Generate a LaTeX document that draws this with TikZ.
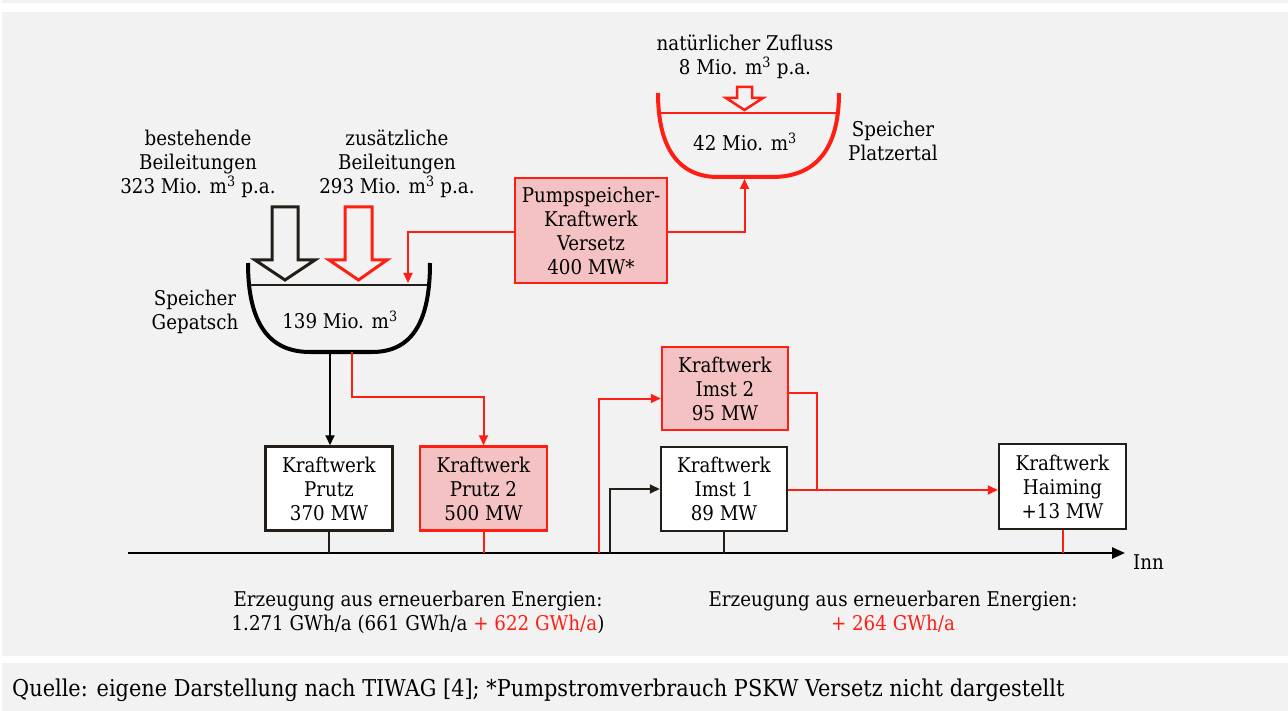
\documentclass[tikz,border=0pt]{standalone}
\usepackage{fontspec}
\setmainfont{DejaVu Serif Condensed}
\usetikzlibrary{arrows.meta}
\definecolor{panel}{HTML}{F2F2F2}
\definecolor{redc}{HTML}{FF1E14}
\definecolor{pinkc}{HTML}{F4C2C2}
\definecolor{darkc}{HTML}{231F18}
\tikzset{
  txt/.style={align=center, inner sep=0pt, font=\fontsize{20.3}{24}\selectfont},
  plant/.style={txt, draw=darkc, line width=2.5pt, fill=white, minimum width=127pt, minimum height=84pt},
  newplant/.style={plant, draw=redc, fill=pinkc},
  conn/.style={line width=2pt, line join=miter},
  tipd/.style={-{Triangle[length=10pt,width=9pt]}},
  bowl/.style={line width=4pt, line cap=butt},
  hollow/.style={line width=3pt, line join=miter}
}
\begin{document}
\begin{tikzpicture}[x=1pt,y=-1pt]
\useasboundingbox (0,0) rectangle (1288,711);
\fill[white] (0,0) rectangle (1288,711);
\fill[panel] (2,0) rectangle (1288,3.3);
\fill[panel] (2,12) rectangle (1288,655.5);
\fill[panel] (2,663) rectangle (1288,711);

% Gepatsch reservoir
\draw[bowl, black] (248,263) .. controls (248,322) and (268,352) .. (310,352) -- (372,352) .. controls (412,352) and (430,322) .. (430,263);
\draw[line width=1.5pt, darkc] (250,285) -- (427,285);
\node[txt] (gepvol) at (340,320) {139 Mio. m\textsuperscript{3}};
\coordinate (gepin) at (408,283);
\coordinate (gepoutb) at (330,352);
\coordinate (gepoutr) at (352,352);

% inflow arrows
\draw[hollow, darkc] (272,207) -- (298,207) -- (298,260) -- (315,260) -- (285,280) -- (255,260) -- (272,260) -- cycle;
\draw[hollow, redc] (345,207) -- (372,207) -- (372,260) -- (387,260) -- (358.5,280) -- (329,260) -- (345,260) -- cycle;

\node[txt] (best) at (198,164) {bestehende\\Beileitungen\\323 Mio. m\textsuperscript{3} p.a.};
\node[txt] (zus) at (397,164) {zusätzliche\\Beileitungen\\293 Mio. m\textsuperscript{3} p.a.};
\node[txt] (gepname) at (195,312) {Speicher\\Gepatsch};

% Platzertal reservoir
\draw[bowl, redc] (658,93) .. controls (658,150) and (680,177) .. (718,177) -- (772,177) .. controls (815,177) and (839,150) .. (839,93);
\draw[line width=2pt, redc] (660,113) -- (837,113);
\draw[line width=2.5pt, redc, line join=miter] (737,87) -- (752,87) -- (752,98) -- (763,98) -- (744.5,110) -- (726,98) -- (737,98) -- cycle;
\node[txt] (platvol) at (745,142) {42 Mio. m\textsuperscript{3}};
\node[txt] (zufluss) at (745,57) {natürlicher Zufluss\\8 Mio. m\textsuperscript{3} p.a.};
\node[txt] (platname) at (893,141) {Speicher\\Platzertal};
\coordinate (platin) at (744.5,179);

% PSKW
\node[newplant, minimum width=152pt, minimum height=105pt] (pskw) at (591,230.5) {Pumpspeicher-\\Kraftwerk\\Versetz\\400 MW*};
\draw[conn, redc, tipd] ([yshift=-2pt]pskw.west) -| (gepin);
\draw[conn, redc, tipd] ([yshift=-2pt]pskw.east) -| (platin);

% plants
\node[plant] (prutz) at (329,488.5) {Kraftwerk\\Prutz\\370 MW};
\node[newplant] (prutz2) at (483.5,488.5) {Kraftwerk\\Prutz 2\\500 MW};
\node[newplant, minimum width=126pt, minimum height=83pt] (imst2) at (725,388.5) {Kraftwerk\\Imst 2\\95 MW};
\node[plant, minimum width=126pt] (imst1) at (724,489) {Kraftwerk\\Imst 1\\89 MW};
\node[plant, minimum height=85pt] (haiming) at (1062.5,486.5) {Kraftwerk\\Haiming\\+13 MW};

\draw[conn, black, tipd] (gepoutb) -- (gepoutb |- prutz.north);
\draw[conn, redc, tipd] (gepoutr) -- ++(0,45) -| (prutz2.north);

% Inn
\coordinate (innl) at (128,553);
\coordinate (innr) at (1125,553);
\draw[line width=2.5pt, black, -{Triangle[length=13pt,width=11pt]}] (innl) -- (innr);
\node[txt, anchor=west] (inn) at (1133,562) {Inn};

\draw[conn, darkc] (prutz.south) -- (prutz.south |- innl);
\draw[conn, redc] (prutz2.south) -- (prutz2.south |- innl);
\draw[conn, darkc] (imst1.south) -- (imst1.south |- innl);
\draw[conn, redc] (haiming.south) -- (haiming.south |- innl);

\coordinate (innfeedr) at (599,553);
\coordinate (innfeedb) at (610,553);
\draw[conn, redc, tipd] (innfeedr) |- ([yshift=-10pt]imst2.west);
\draw[conn, darkc, tipd] (innfeedb) |- (imst1.west);
\coordinate (junc) at (817,490);
\draw[conn, redc] ([yshift=-4.5pt]imst2.east) -| (junc);
\draw[conn, redc, tipd] ([yshift=-1pt]imst1.east) -- ([yshift=-1pt]imst1.east -| haiming.west);

% production texts
\node[txt] (prodl) at (418,612) {Erzeugung aus erneuerbaren Energien:\\1.271 GWh/a (661 GWh/a \textcolor{redc}{+ 622 GWh/a})};
\node[txt] (prodr) at (893,612) {Erzeugung aus erneuerbaren Energien:\\\textcolor{redc}{+ 264 GWh/a}};

% footer
\node[anchor=west, inner sep=0pt, font=\fontsize{23.2}{26}\selectfont] (quelle) at (12,690) {Quelle: eigene Darstellung nach TIWAG [4]; *Pumpstromverbrauch PSKW Versetz nicht dargestellt};
\end{tikzpicture}
\end{document}
